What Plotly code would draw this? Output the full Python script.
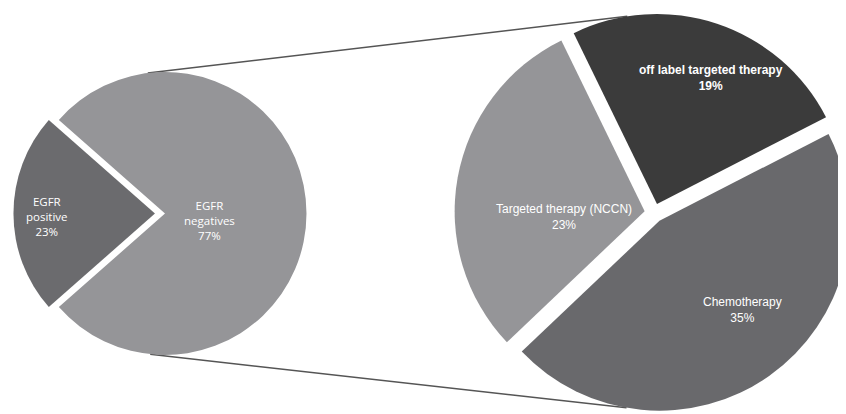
import math
import plotly.graph_objects as go

W, H = 846, 414
PAGE_MARGIN = 8  # the browser's default body margin shifts the figure by this much

# ---- data ----
egfr_labels = ["EGFR<br>positive", "EGFR<br>negatives"]
egfr_values = [23, 77]
therapy_labels = ["off label targeted therapy", "Chemotherapy", "Targeted therapy (NCCN)"]
therapy_values = [19, 35, 23]

# ---- styles ----
egfr_colors = ["#6b6b6e", "#959598"]
therapy_colors = ["#3b3b3b", "#69696c", "#959598"]
egfr_pull = [0.071, 0.0]
therapy_pull = [0.05, 0.05, 0.05]
egfr_rotation = -131.4
therapy_rotation = -26

# desired geometry, in window pixels
L_CX, L_CY, L_R = 165, 213.5, 141.5
R_CX, R_CY, R_R = 654, 213, 190


def make_domain(cx, cy, r, pull):
    cx -= PAGE_MARGIN
    cy -= PAGE_MARGIN
    half = r * (1 + max(pull))
    x0 = max(0.0, (cx - half) / W)
    x1 = min(1.0, (cx + half) / W)
    y0 = max(0.0, 1 - (cy + half) / H)
    y1 = min(1.0, 1 - (cy - half) / H)
    return dict(x=[x0, x1], y=[y0, y1])


def geom(dom, pull):
    # same sizing rule plotly uses for pies (figure pixels)
    w = (dom["x"][1] - dom["x"][0]) * W
    h = (dom["y"][1] - dom["y"][0]) * H
    r = min(w, h) / (2 * (1 + max(pull)))
    cx = (dom["x"][0] + dom["x"][1]) / 2 * W
    cy = (1 - (dom["y"][0] + dom["y"][1]) / 2) * H
    return cx, cy, r


def slice_centers(values, pull, rotation, cx, cy, r):
    total = sum(values)
    out, cum = [], 0
    for v, p in zip(values, pull):
        mid = rotation + 360 * (cum + v / 2) / total
        a = math.radians(mid)
        out.append((cx + p * r * math.sin(a), cy - p * r * math.cos(a)))
        cum += v
    return out


def on_circle(c, r, cw_angle):
    a = math.radians(cw_angle)
    return c[0] + r * math.sin(a), c[1] - r * math.cos(a)


def paper(pt):
    return pt[0] / W, 1 - pt[1] / H


left_dom = make_domain(L_CX, L_CY, L_R, egfr_pull)
right_dom = make_domain(R_CX, R_CY, R_R, therapy_pull)
lcx, lcy, lr = geom(left_dom, egfr_pull)
rcx, rcy, rr = geom(right_dom, therapy_pull)

fig = go.Figure()
fig.add_trace(go.Pie(
    labels=egfr_labels, values=egfr_values, sort=False, direction="clockwise",
    rotation=egfr_rotation, pull=egfr_pull, domain=left_dom,
    marker=dict(colors=egfr_colors, line=dict(width=0)),
    textinfo="none", hoverinfo="label+value", showlegend=False,
))
fig.add_trace(go.Pie(
    labels=therapy_labels, values=therapy_values, sort=False, direction="clockwise",
    rotation=therapy_rotation, pull=therapy_pull, domain=right_dom,
    marker=dict(colors=therapy_colors, line=dict(width=0)),
    textinfo="none", hoverinfo="label+value", showlegend=False,
))

# connector lines between the two pies (tangent points on the pie edges)
rsc = slice_centers(therapy_values, therapy_pull, therapy_rotation, rcx, rcy, rr)
top_a = on_circle((lcx, lcy), lr, -7)
top_b = on_circle(rsc[0], rr, -9)
bot_a = on_circle((lcx, lcy), lr, 186)
bot_b = on_circle(rsc[1], rr, 190)
for a, b in [(top_a, top_b), (bot_a, bot_b)]:
    pa, pb = paper(a), paper(b)
    fig.add_shape(type="line", xref="paper", yref="paper",
                  x0=pa[0], y0=pa[1], x1=pb[0], y1=pb[1],
                  line=dict(color="#555555", width=1.5), layer="below")

# labels (positions inside the slices, relative to pie centre, in radius units)
left_offsets = [(-0.834, 0.018), (0.314, 0.046)]
right_offsets = [(0.302, -0.708), (0.464, 0.508), (-0.474, 0.023)]
left_font = dict(family="Open Sans, Lato, sans-serif", size=11.5, color="white")
right_font = dict(family="Liberation Sans, Arial, sans-serif", size=12, color="white")

for lab, val, (fx, fy) in zip(egfr_labels, egfr_values, left_offsets):
    x, y = paper((lcx + fx * lr, lcy + fy * lr))
    fig.add_annotation(x=x, y=y, xref="paper", yref="paper", showarrow=False,
                       xanchor="center", yanchor="middle",
                       text=f"{lab}<br>{val}%", font=left_font, align="center")
for lab, val, (fx, fy) in zip(therapy_labels, therapy_values, right_offsets):
    x, y = paper((rcx + fx * rr, rcy + fy * rr))
    txt = f"{lab}<br>{val}%"
    if lab.startswith("off"):
        txt = f"<b>{txt}</b>"
    fig.add_annotation(x=x, y=y, xref="paper", yref="paper", showarrow=False,
                       xanchor="center", yanchor="middle",
                       text=txt, font=right_font, align="center")

fig.update_layout(
    width=W, height=H, margin=dict(l=0, r=0, t=0, b=0),
    paper_bgcolor="white", plot_bgcolor="white", showlegend=False,
)
fig.write_html("out.html")
